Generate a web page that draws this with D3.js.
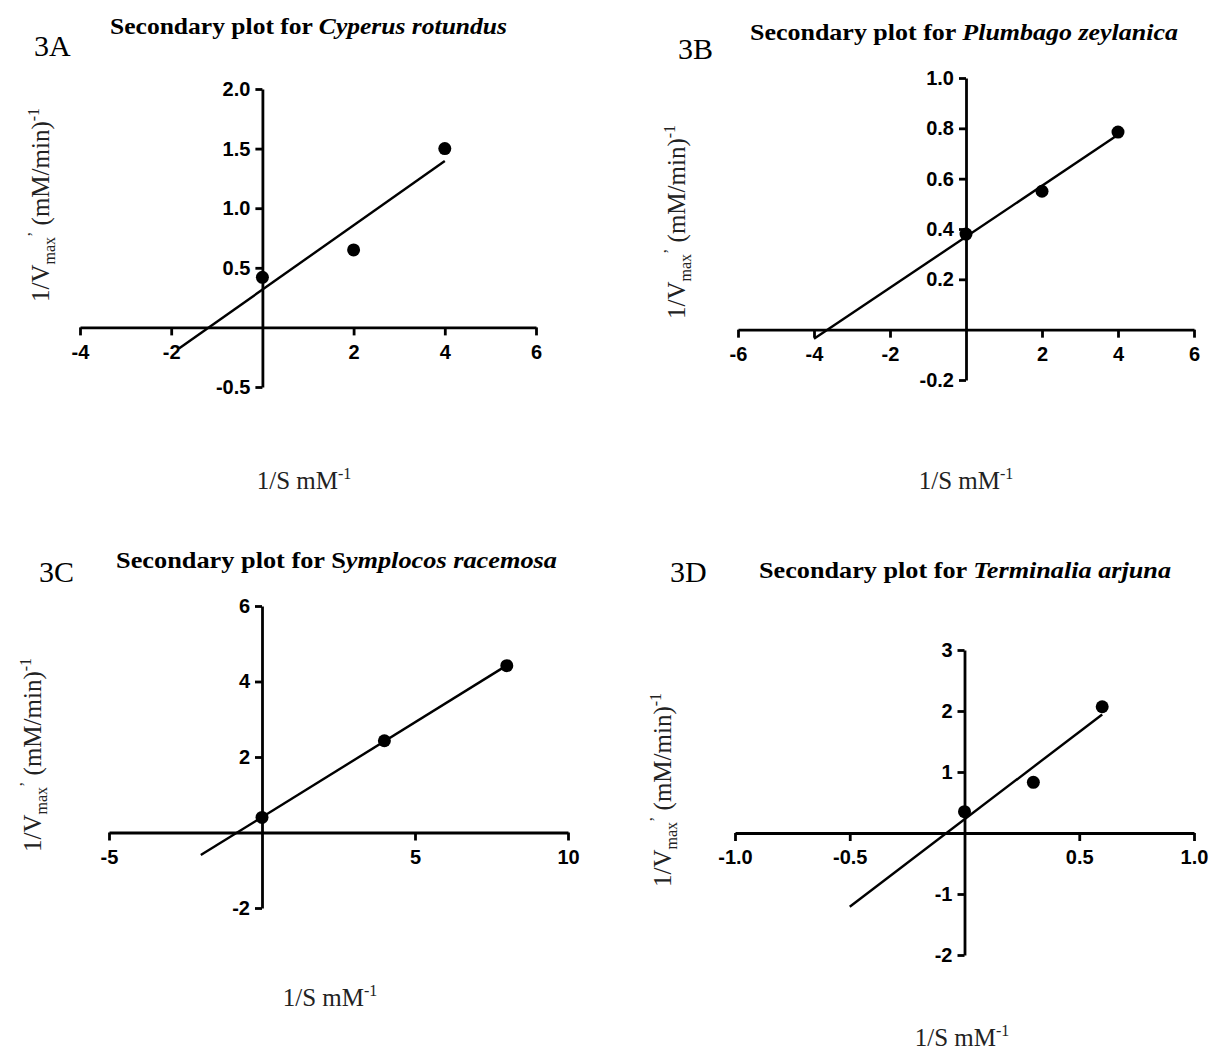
<!DOCTYPE html>
<html>
<head>
<meta charset="utf-8">
<script src="https://cdn.jsdelivr.net/npm/d3@7"></script>
<style>
  body { margin: 0; background: #fff; }
  svg { display: block; }
</style>
</head>
<body>
<div id="chart"></div>
<script>

// Data (1/S vs 1/Vmax')
var panelTags = ['3A', '3B', '3C', '3D'];
var titlePlain = ['Secondary plot for ', 'Secondary plot for ', 'Secondary  plot for S', 'Secondary plot for '];
var titleItalic = ['Cyperus rotundus', 'Plumbago zeylanica', 'ymplocos racemosa', 'Terminalia arjuna'];

var xA = [0, 2, 4],     yA = [0.42, 0.65, 1.50];
var xB = [0, 2, 4],     yB = [0.38, 0.55, 0.785];
var xC = [0, 4, 8],     yC = [0.40, 2.43, 4.42];
var xD = [0, 0.3, 0.6], yD = [0.35, 0.83, 2.07];

// x range the fitted line is drawn over
var fitFrom = [-1.83, -4, -2, -0.5];
var fitTo   = [4, 4, 8, 0.6];

var xDomains = [[-4, 6], [-6, 6], [-5, 10], [-1, 1]];
var yDomains = [[-0.5, 2], [-0.2, 1], [-2, 6], [-2, 3]];
var xTicks = [[-4, -2, 2, 4, 6], [-6, -4, -2, 2, 4, 6], [-5, 5, 10], [-1, -0.5, 0.5, 1]];
var yTicks = [[-0.5, 0.5, 1, 1.5, 2], [-0.2, 0.2, 0.4, 0.6, 0.8, 1], [-2, 2, 4, 6], [-2, -1, 1, 2, 3]];
var xFormats = ['d', 'd', 'd', '.1f'];
var yFormats = ['.1f', '.1f', 'd', 'd'];

var seriesX = [xA, xB, xC, xD];
var seriesY = [yA, yB, yC, yD];

// Layout (pixels) for each panel
var layout = [
  {x: [80, 536],  y: [387, 89],  tag: [34, 56],   title: [110, 34, 397],  ylab: [40, 205],  xlab: [304, 489]},
  {x: [738, 1194], y: [380, 78], tag: [678, 59],  title: [750, 40, 428],  ylab: [676, 222], xlab: [966, 489]},
  {x: [109, 568], y: [908, 606], tag: [39, 582],  title: [116, 568, 441], ylab: [32, 755],  xlab: [330, 1006]},
  {x: [735, 1194], y: [955, 650], tag: [670, 582], title: [759, 578, 412], ylab: [662, 790], xlab: [962, 1046]}
];

var serif = '"Liberation Serif", "Times New Roman", serif';
var sans = '"Liberation Sans", Arial, sans-serif';

var svg = d3.select('#chart').append('svg')
  .attr('width', 1210)
  .attr('height', 1052);

var fit = function(xs, ys) {
  var mx = d3.mean(xs), my = d3.mean(ys);
  var sxy = d3.sum(xs, function(x, i) { return (x - mx) * (ys[i] - my); });
  var sxx = d3.sum(xs, function(x) { return (x - mx) * (x - mx); });
  var b = sxy / sxx;
  return {slope: b, icpt: my - b * mx};
};

var hyphen = function(fmt) {
  var f = d3.format(fmt);
  return function(d) { return f(d).replace('\u2212', '-'); };
};

panelTags.forEach(function(tag, i) {

  var L = layout[i];
  var x = d3.scaleLinear().domain(xDomains[i]).range(L.x);
  var y = d3.scaleLinear().domain(yDomains[i]).range(L.y);

  var g = svg.append('g').attr('class', 'panel-' + tag);

  // Panel tag and title
  g.append('text')
    .attr('x', L.tag[0]).attr('y', L.tag[1])
    .style('font-family', serif).style('font-size', '30px')
    .text(tag);

  var t = g.append('text')
    .attr('x', L.title[0]).attr('y', L.title[1])
    .attr('textLength', L.title[2]).attr('lengthAdjust', 'spacingAndGlyphs')
    .style('font-family', serif).style('font-size', '24px').style('font-weight', 'bold');
  t.append('tspan').text(titlePlain[i]);
  t.append('tspan').style('font-style', 'italic').text(titleItalic[i]);

  // Axes crossing at the origin
  var xAxis = d3.axisBottom(x).tickValues(xTicks[i]).tickSize(8).tickSizeOuter(0)
    .tickPadding(9).tickFormat(hyphen(xFormats[i]));
  var yAxis = d3.axisLeft(y).tickValues(yTicks[i]).tickSize(7).tickSizeOuter(0)
    .tickPadding(5).tickFormat(hyphen(yFormats[i]));

  var gx = g.append('g').attr('transform', 'translate(0,' + y(0) + ')').call(xAxis);
  var gy = g.append('g').attr('transform', 'translate(' + x(0) + ',0)').call(yAxis);

  [gx, gy].forEach(function(a) {
    a.selectAll('path, line').attr('stroke', '#000').attr('stroke-width', 2.8);
    a.selectAll('text')
      .attr('fill', '#000')
      .style('font-family', sans).style('font-size', '20px').style('font-weight', 'bold');
  });

  // Axis titles
  var yl = g.append('text')
    .attr('transform', 'translate(' + L.ylab[0] + ',' + L.ylab[1] + ') rotate(-90)')
    .attr('text-anchor', 'middle').attr('dy', '0.35em')
    .attr('fill', '#222')
    .style('font-family', serif).style('font-size', '25px');
  yl.append('tspan').text('1/V');
  yl.append('tspan').style('font-size', '16px').attr('dy', 6).text('max');
  yl.append('tspan').style('font-size', '16px').attr('dy', -16).text('\u2019');
  yl.append('tspan').attr('dy', 10).text(' (mM/min)');
  yl.append('tspan').style('font-size', '16px').attr('dy', -10).text('-1');

  var xl = g.append('text')
    .attr('x', L.xlab[0]).attr('y', L.xlab[1])
    .attr('text-anchor', 'middle')
    .attr('fill', '#222')
    .style('font-family', serif).style('font-size', '25px');
  xl.append('tspan').text('1/S mM');
  xl.append('tspan').style('font-size', '16px').attr('dy', -10).text('-1');

  // Fitted line and points
  var f = fit(seriesX[i], seriesY[i]);
  var ends = [fitFrom[i], fitTo[i]];

  g.append('path')
    .datum(ends)
    .attr('fill', 'none')
    .attr('stroke', '#000')
    .attr('stroke-width', 2.4)
    .attr('d', d3.line()
      .x(function(d) { return x(d); })
      .y(function(d) { return y(f.icpt + f.slope * d); }));

  g.selectAll('circle')
    .data(seriesX[i])
    .enter().append('circle')
    .attr('cx', function(d) { return x(d); })
    .attr('cy', function(d, j) { return y(seriesY[i][j]); })
    .attr('r', 6.5)
    .attr('fill', '#000');
});

</script>
</body>
</html>
